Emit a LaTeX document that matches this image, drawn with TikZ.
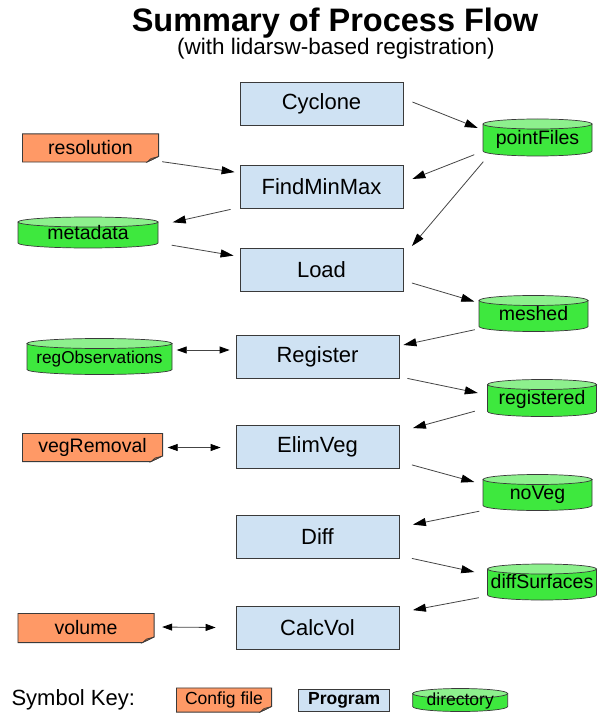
\documentclass[tikz,border=0pt]{standalone}
\usepackage{fontspec}
\setmainfont{Liberation Sans}
\usetikzlibrary{arrows.meta,positioning,calc}

\definecolor{progblue}{HTML}{CFE2F3}
\definecolor{dirgreen}{HTML}{3EE83E}
\definecolor{dirtop}{HTML}{8DF08D}
\definecolor{cfgorange}{HTML}{FF9966}
\definecolor{cfgfold}{HTML}{B8683F}
\definecolor{edgegray}{HTML}{3A3A3A}
\definecolor{flowgray}{HTML}{444444}

\tikzset{
	program/.style={
		rectangle, minimum width=163pt, minimum height=43pt, inner sep=0pt,
		draw=edgegray, line width=0.8pt, fill=progblue,
		font=\fontsize{22}{26}\selectfont
	},
	%
	directory/.style={
		rectangle, minimum width=110pt, minimum height=37pt, inner sep=0pt,
		text height=18pt, text depth=4.5pt,
		font=\fontsize{19.5}{23}\selectfont,
		path picture={
			\draw[edgegray, line width=0.7pt, fill=dirgreen]
				let \p1=(path picture bounding box.south west),
				    \p2=(path picture bounding box.north east),
				    \n1={(\x2-\x1)/2-0.5pt}
				in (\x1+0.5pt,\y2-5.5pt) -- (\x1+0.5pt,\y1+5.5pt)
				arc[start angle=180, end angle=360, x radius=\n1, y radius=5pt]
				-- (\x2-0.5pt,\y2-5.5pt) -- cycle;
			\draw[edgegray, line width=0.7pt, fill=dirtop]
				let \p1=(path picture bounding box.south west),
				    \p2=(path picture bounding box.north east),
				    \n1={(\x2-\x1)/2-0.5pt}
				in ({(\x1+\x2)/2},\y2-5.5pt) ellipse[x radius=\n1, y radius=5pt];
		}
	},
	%
	configfile/.style={
		rectangle, minimum width=137pt, minimum height=29pt, inner sep=0pt,
		font=\fontsize{19.5}{23}\selectfont,
		path picture={
			\draw[edgegray, line width=0.8pt, fill=cfgorange]
				([shift={(0.4pt,-0.4pt)}]path picture bounding box.north west)
				-- ([shift={(-0.4pt,-0.4pt)}]path picture bounding box.north east)
				-- ([shift={(-0.4pt,6pt)}]path picture bounding box.south east)
				-- ([shift={(-12pt,0.4pt)}]path picture bounding box.south east)
				-- ([shift={(0.4pt,0.4pt)}]path picture bounding box.south west) -- cycle;
			\draw[edgegray, line width=0.6pt, fill=cfgfold]
				([shift={(-12pt,0.4pt)}]path picture bounding box.south east)
				-- ([shift={(-0.4pt,6pt)}]path picture bounding box.south east)
				-- ([shift={(-8pt,4pt)}]path picture bounding box.south east) -- cycle;
		}
	},
	%
	flow/.style={
		draw=flowgray, line width=0.8pt, -{Triangle[length=13pt,width=8pt,black]}
	},
	%
	twoway/.style={
		draw=flowgray, line width=0.8pt,
		{Triangle[length=10pt,width=7pt,black]}-{Triangle[length=10pt,width=7pt,black]}
	}
}

\begin{document}
\begin{tikzpicture}[x=1pt, y=-1pt]
    \useasboundingbox (0,0) rectangle (605,719);
    \node(title)[anchor=base, font=\fontsize{32.5}{38}\selectfont\bfseries] at (335,32) {Summary of Process Flow};
    \node(subtitle)[anchor=base, font=\fontsize{22.5}{27}\selectfont] at (336,55) {(with lidarsw-based registration)};
    % programs
    \node(cyclone)[program] at (321.5,103.5) {Cyclone};
    \node(findminmax)[program] at (321.5,187) {FindMinMax};
    \node(load)[program] at (321.5,270) {Load};
    \node(register)[program] at (317.5,356.5) {Register};
    \node(elimveg)[program] at (317.5,446.5) {ElimVeg};
    \node(diff)[program] at (317.5,536.5) {Diff};
    \node(calcvol)[program] at (317.5,627.5) {CalcVol};
    % directories
    \node(pointfiles)[directory, minimum height=38pt] at (537.5,137.5) {pointFiles};
    \node(metadata)[directory, minimum width=141pt, minimum height=32pt] at (88,232.5) {metadata};
    \node(meshed)[directory] at (533.5,313.5) {meshed};
    \node(regobs)[directory, minimum width=146pt, font=\fontsize{17.2}{20}\selectfont] at (99.5,356.5) {regObservations};
    \node(registered)[directory, minimum height=38pt] at (542,398) {registered};
    \node(noveg)[directory] at (537.5,492.5) {noVeg};
    \node(diffsurf)[directory] at (542,582) {diffSurfaces};
    % config files
    \node(resolution)[configfile] at (90.5,148) {resolution};
    \node(vegremoval)[configfile, minimum width=141pt] at (92.5,447.5) {vegRemoval};
    \node(volume)[configfile, minimum height=30pt] at (86,628) {volume};
    % flow
    \draw[flow] ([xshift=9pt,yshift=1.5pt]cyclone.east) -- ([xshift=-4.5pt,yshift=9.5pt]pointfiles.west);
    \draw[flow] ([xshift=3pt,yshift=1pt]resolution.south east) -- ([xshift=-5pt,yshift=-7pt]findminmax.north west);
    \draw[flow] ([xshift=-9pt,yshift=-0.5pt]findminmax.south west) -- ([xshift=14pt,yshift=-6pt]metadata.north east);
    \draw[flow] ([xshift=13pt,yshift=3.5pt]metadata.south east) -- ([xshift=-6pt,yshift=-7.5pt]load.north west);
    \draw[flow] ([xshift=-8pt,yshift=2pt]pointfiles.south west) -- ([xshift=9pt,yshift=8pt]findminmax.east);
    \draw[flow] ([xshift=1pt,yshift=-5pt]pointfiles.south west) -- ([xshift=8.5pt,yshift=2pt]load.north east);
    \draw[flow] ([xshift=8.5pt,yshift=-13pt]load.east) -- ([xshift=-4pt,yshift=12pt]meshed.west);
    \draw[flow] ([xshift=-3.5pt,yshift=2.5pt]meshed.south west) -- ([xshift=4pt,yshift=11.5pt]register.east);
    \draw[twoway] ([xshift=4pt,yshift=6.5pt]regobs.east) -- ([xshift=-6pt,yshift=6.5pt]register.west);
    \draw[flow] ([xshift=8pt]register.south east) -- ([xshift=-9pt,yshift=5pt]registered.west);
    \draw[flow] ([xshift=-12pt,yshift=6pt]registered.south west) -- ([xshift=13.5pt,yshift=-3.5pt]elimveg.north east);
    \draw[twoway] ([xshift=4.5pt]vegremoval.east) -- ([xshift=-15pt,yshift=-1pt]elimveg.west);
    \draw[flow] ([xshift=12.5pt,yshift=3.5pt]elimveg.south east) -- ([xshift=-8pt,yshift=10.5pt]noveg.west);
    \draw[flow] ([xshift=-3pt]noveg.south west) -- ([xshift=13.5pt,yshift=-10pt]diff.north east);
    \draw[flow] ([xshift=12.5pt]diff.south east) -- ([xshift=-12.5pt,yshift=10pt]diffsurf.west);
    \draw[flow] ([xshift=-8pt,yshift=3pt]diffsurf.south west) -- ([xshift=13.5pt,yshift=-4.5pt]calcvol.north east);
    \draw[twoway] ([xshift=7.5pt,yshift=1pt]volume.east) -- ([xshift=-20pt]calcvol.west);
    % key
    \node(keylabel)[anchor=west, font=\fontsize{22}{26}\selectfont] at (8,700) {Symbol Key:};
    \node(keycfg)[configfile, minimum width=96pt, minimum height=25pt, font=\fontsize{17.5}{21}\selectfont] at (224,700) {Config file};
    \node(keyprog)[program, right=26pt of keycfg, minimum width=91pt, minimum height=22pt, font=\fontsize{17.5}{21}\selectfont\bfseries] {Program};
    \node(keydir)[directory, right=22pt of keyprog, minimum width=96pt, minimum height=24pt, text height=14pt, text depth=3pt, font=\fontsize{17.5}{21}\selectfont] {directory};
\end{tikzpicture}
\end{document}
